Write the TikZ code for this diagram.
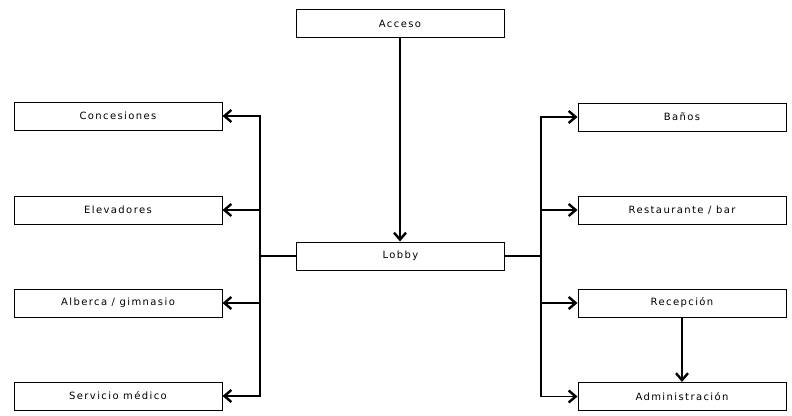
\documentclass[tikz,border=0pt]{standalone}
\usepackage{fontspec}
\setmainfont{DejaVu Sans}[LetterSpace=14]
\usetikzlibrary{arrows.meta}
\tikzset{
  box/.style={draw, line width=1pt, minimum width=208pt, minimum height=28pt, inner sep=0pt, font=\fontsize{10}{11}\selectfont},
  conn/.style={line width=1.6pt},
  arr/.style={conn, -{Straight Barb[length=7pt,width=12pt,line width=2.4pt]}},
}
\begin{document}
\begin{tikzpicture}[x=1pt,y=-1pt]
\useasboundingbox (0,0) rectangle (792,415);
\node[box] (acceso) at (400,23.5) {Acceso};
\node[box] (lobby) at (400.5,256) {Lobby};
\node[box] (conc) at (118,116) {Concesiones};
\node[box] (elev) at (118,210) {Elevadores};
\node[box] (alb) at (118,303) {Alberca / gimnasio};
\node[box] (serv) at (118,396) {Servicio médico};
\node[box] (banos) at (682,117) {Baños};
\node[box] (rest) at (682,210) {Restaurante / bar};
\node[box] (recep) at (682,303) {Recepción};
\node[box] (admin) at (682,396.5) {Administración};
\coordinate (lt) at (260,256);
\coordinate (rt) at (541,256);
\draw[arr] (acceso.south) -- (acceso.south |- lobby.north);
\draw[conn] (lobby.west) -- (lt);
\draw[conn] (lobby.east) -- (rt);
\draw[arr] (lt) |- (conc.east);
\draw[arr] (lt) |- (elev.east);
\draw[arr] (lt) |- (alb.east);
\draw[arr] (lt) |- (serv.east);
\draw[arr] (rt) |- (banos.west);
\draw[arr] (rt) |- (rest.west);
\draw[arr] (rt) |- (recep.west);
\draw[arr] (rt) |- (admin.west);
\draw[arr] (recep) -- (admin);
\end{tikzpicture}
\end{document}
